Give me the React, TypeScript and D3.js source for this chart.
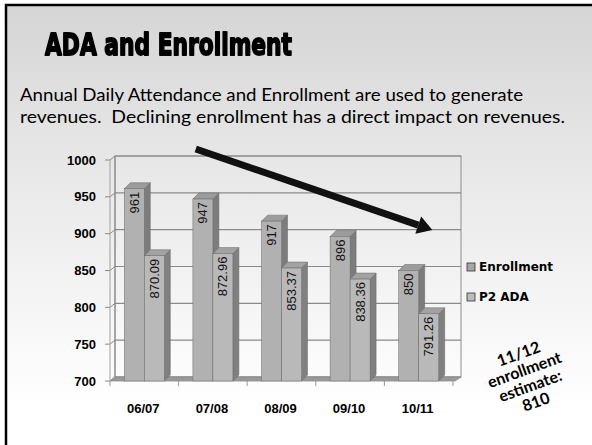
import * as d3 from 'd3';
import React from 'react';

const categories = ['06/07', '07/08', '08/09', '09/10', '10/11'];
const enrollment = [961, 947, 917, 896, 850];
const p2ada = [870.09, 872.96, 853.37, 838.36, 791.26];
const seriesNames = ['Enrollment', 'P2 ADA'];
const yTicks = [700, 750, 800, 850, 900, 950, 1000];
const noteLines = ['11/12', 'enrollment', 'estimate:', '810'];
// trend arrow in data units: [category position, value]
const arrowFrom = [0.75, 1015];
const arrowTo = [4.2, 905];

const W = 592;
const H = 445;

function App() {
  const left = 110, right = 453, bottom = 381, top = 160;
  const wdx = 5, wdy = -4; // wall depth
  const bdx = 6, bdy = -6; // bar depth

  const y = d3.scaleLinear().domain([700, 1000]).range([bottom, top]);
  const x = d3.scaleBand().domain(categories).range([left, right])
    .paddingInner(0.417).paddingOuter(0.2085);
  const xs = d3.scaleBand().domain(seriesNames).range([0, x.bandwidth()]);
  const step = x.step();
  const catPos = (i) => x(categories[0]) + x.bandwidth() / 2 + i * step;

  const fmtA = d3.format('d');
  const fmtB = d3.format('.2f');

  const series = [
    { name: seriesNames[0], values: enrollment, fmt: fmtA, front: '#b1b1b1', side: '#7c7c7c', topc: '#9c9c9c' },
    { name: seriesNames[1], values: p2ada, fmt: fmtB, front: '#b9b9b9', side: '#808080', topc: '#a2a2a2' },
  ];

  const pts = (arr) => arr.map((p) => p.join(',')).join(' ');

  // arrow
  const ax1 = catPos(arrowFrom[0]), ay1 = y(arrowFrom[1]);
  const ax2 = catPos(arrowTo[0]), ay2 = y(arrowTo[1]);
  const len = Math.hypot(ax2 - ax1, ay2 - ay1);
  const ux = (ax2 - ax1) / len, uy = (ay2 - ay1) / len;
  const headL = 15, headW = 9;
  const bx = ax2 - ux * headL, by = ay2 - uy * headL;

  return (
    <svg width={W} height={H} style={{ position: 'absolute', left: 0, top: 0 }}>
      <defs>
        <linearGradient id="bg" x1="0" y1="0" x2="0" y2="1">
          <stop offset="0" stopColor="#d5d5d5" />
          <stop offset="0.35" stopColor="#e7e7e7" />
          <stop offset="0.9" stopColor="#ffffff" />
        </linearGradient>
        <filter id="soft"><feGaussianBlur stdDeviation="0.6" /></filter>
      </defs>
      <rect x={0} y={0} width={W} height={H} fill="#fff" />
      <rect x={6} y={5} width={W} height={H} fill="url(#bg)" />
      <path d={`M6,${H} V5 H${W}`} fill="none" stroke="#000" strokeWidth={2.5} />

      <text x={45} y={55} fontFamily="DejaVu Sans" fontWeight={900} fontSize={30}
        textLength={247} lengthAdjust="spacingAndGlyphs" stroke="#000" strokeWidth={1.8}
        strokeLinejoin="round" filter="url(#soft)">ADA and Enrollment</text>

      <g fontFamily="Lato, 'Open Sans', sans-serif" fontSize={16.5} fill="#000">
        <text x={20} y={101} textLength={503} lengthAdjust="spacingAndGlyphs">Annual Daily Attendance and Enrollment are used to generate</text>
        <text x={20} y={123} textLength={545} lengthAdjust="spacingAndGlyphs" style={{ whiteSpace: 'pre' }}>revenues.  Declining enrollment has a direct impact on revenues.</text>
      </g>

      {/* back wall */}
      <rect x={left + wdx} y={top + wdy} width={right + 8 - left - wdx} height={bottom - top}
        fill="none" stroke="#8c8c8c" strokeWidth={1} />
      {yTicks.map((t) => (
        <g key={t}>
          <line x1={left + wdx} x2={right + 8} y1={y(t) + wdy} y2={y(t) + wdy} stroke="#8a8a8a" strokeWidth={1.2} />
          <line x1={left} x2={left + wdx} y1={y(t)} y2={y(t) + wdy} stroke="#8a8a8a" />
          <line x1={left - 5} x2={left} y1={y(t)} y2={y(t)} stroke="#8a8a8a" />
          <text x={96} y={y(t)} textAnchor="end" dominantBaseline="central"
            fontFamily="'Liberation Sans', Arial, sans-serif" fontWeight="bold" fontSize={13}>{t}</text>
        </g>
      ))}
      <line x1={left} x2={left} y1={top} y2={bottom} stroke="#a0a0a0" />
      <line x1={left + wdx} x2={left + wdx} y1={top + wdy} y2={bottom + wdy} stroke="#8a8a8a" />

      {/* floor */}
      <polygon points={pts([[left, bottom], [right + 2, bottom], [right + 8, bottom + wdy], [left + wdx, bottom + wdy]])}
        fill="#9a9a9a" stroke="#8a8a8a" strokeWidth={0.8} />
      {d3.range(categories.length + 1).map((i) => (
        <line key={i} x1={left + i * step} x2={left + i * step} y1={bottom} y2={bottom + 5} stroke="#9a9a9a" />
      ))}

      {/* bars */}
      {categories.map((c, i) => (
        <g key={c}>
          {series.map((s) => {
            const xb = x(c) + xs(s.name);
            const w = xs.bandwidth();
            const t = y(s.values[i]);
            return (
              <g key={s.name}>
                <polygon points={pts([[xb + w, t], [xb + w + bdx, t + bdy], [xb + w + bdx, bottom + bdy], [xb + w, bottom]])}
                  fill={s.side} stroke="#666" strokeWidth={0.5} />
                <polygon points={pts([[xb, t], [xb + bdx, t + bdy], [xb + w + bdx, t + bdy], [xb + w, t]])}
                  fill={s.topc} stroke="#666" strokeWidth={0.5} />
                <rect x={xb} y={t} width={w} height={bottom - t} fill={s.front} stroke="#6a6a6a" strokeWidth={0.5} />
                <text transform={`translate(${xb + w / 2},${t + 3}) rotate(-90)`} textAnchor="end"
                  dominantBaseline="central" fontFamily="'Liberation Sans', Arial, sans-serif" fontSize={13}
                  fill="#111">{s.fmt(s.values[i])}</text>
              </g>
            );
          })}
          <text x={x(c) + x.bandwidth() / 2 - 1} y={408} textAnchor="middle" dominantBaseline="central"
            fontFamily="'Liberation Sans', Arial, sans-serif" fontWeight="bold" fontSize={13}>{c}</text>
        </g>
      ))}

      {/* arrow */}
      <line x1={ax1} y1={ay1} x2={bx} y2={by} stroke="#111" strokeWidth={7} />
      <polygon points={pts([[ax2, ay2], [bx - uy * headW, by + ux * headW], [bx + uy * headW, by - ux * headW]])} fill="#111" />

      {/* legend */}
      {series.map((s, k) => (
        <g key={s.name} transform={`translate(467,${267 + k * 30})`}>
          <rect x={0} y={-4} width={8} height={8} fill={k === 0 ? '#a6a6a6' : '#bcbcbc'} stroke="#333" strokeWidth={0.8} />
          <text x={12} y={0} dominantBaseline="central" fontFamily="'DejaVu Sans', sans-serif" fontWeight="bold"
            fontSize={12}>{s.name === 'P2 ADA' ? 'P2  ADA' : s.name}</text>
        </g>
      ))}

      {/* note */}
      <g transform="translate(527,377) rotate(-20)" fontFamily="Lato, 'Open Sans', sans-serif" fontWeight="bold" fontSize={16}>
        {noteLines.map((l, k) => (
          <text key={k} x={0} y={(k - 1.5) * 17} textAnchor="middle" dominantBaseline="central">{l}</text>
        ))}
      </g>
    </svg>
  );
}

export default App;
